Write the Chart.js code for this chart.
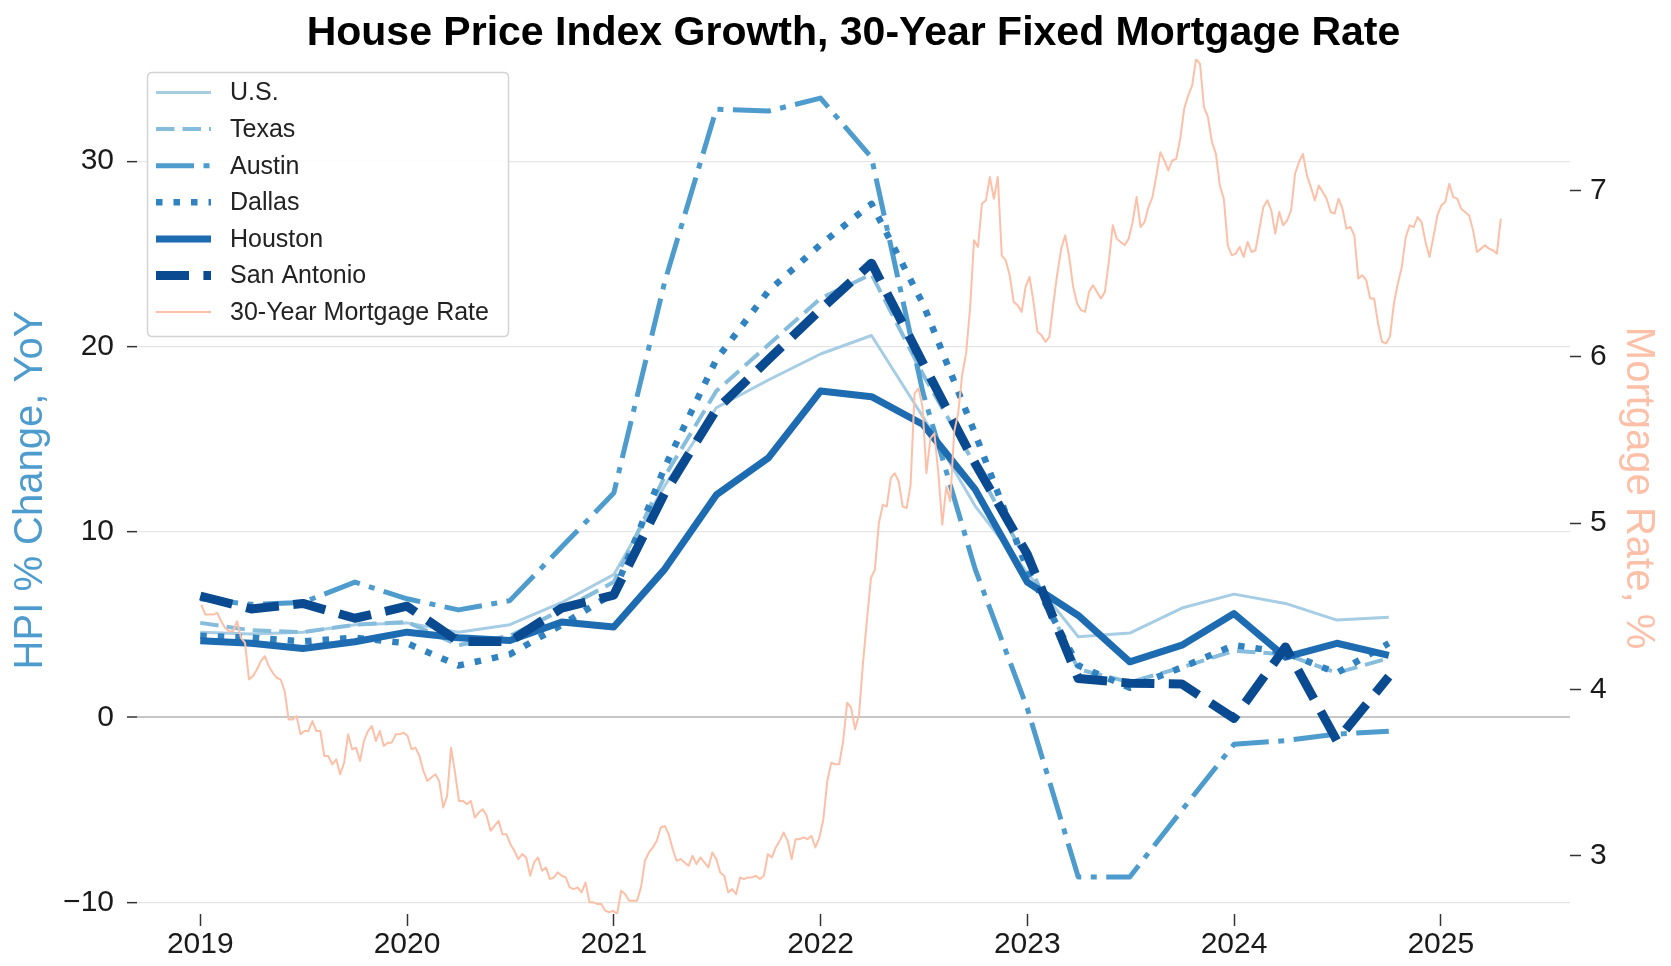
<!DOCTYPE html>
<html>
<head>
<meta charset="utf-8">
<script src="https://cdn.jsdelivr.net/npm/chart.js@4.4.1/dist/chart.umd.min.js"></script>
<style>
html,body{margin:0;padding:0;background:#fff;}
canvas{display:block;}
</style>
</head>
<body>
<canvas id="c" width="1671" height="966"></canvas>
<script>
// ---------- DATA ----------
const titleText = 'House Price Index Growth, 30-Year Fixed Mortgage Rate';
const leftAxisLabel = 'HPI % Change, YoY';
const rightAxisLabel = 'Mortgage Rate, %';

const quarters = ['2019Q1','2019Q2','2019Q3','2019Q4','2020Q1','2020Q2','2020Q3','2020Q4',
  '2021Q1','2021Q2','2021Q3','2021Q4','2022Q1','2022Q2','2022Q3','2022Q4',
  '2023Q1','2023Q2','2023Q3','2023Q4','2024Q1','2024Q2','2024Q3','2024Q4'];

const usHPI      = [4.6, 4.5, 4.6, 5.0, 5.1, 4.6, 5.0, 6.2, 7.7, 12.5, 16.7, 18.2, 19.6, 20.6, 16.2, 11.4, 7.8, 4.35, 4.55, 5.9, 6.65, 6.15, 5.25, 5.4];
const texasHPI   = [5.1, 4.7, 4.6, 5.0, 5.15, 3.9, 4.4, 5.8, 7.3, 13.0, 17.6, 20.1, 22.6, 23.9, 18.5, 13.6, 8.4, 2.6, 1.9, 2.7, 3.6, 3.4, 2.4, 3.2];
const austinHPI  = [6.4, 6.1, 6.2, 7.3, 6.4, 5.8, 6.3, 9.2, 12.1, 23.5, 32.8, 32.7, 33.4, 30.2, 17.5, 8.0, 0.5, -8.6, -8.6, -5.0, -1.45, -1.25, -0.9, -0.75];
const dallasHPI  = [4.4, 4.3, 4.1, 4.3, 4.0, 2.8, 3.4, 5.0, 6.7, 13.5, 19.3, 23.0, 25.5, 27.7, 22.3, 15.3, 8.0, 2.8, 1.6, 2.7, 3.9, 3.5, 2.4, 4.0];
const houstonHPI = [4.13, 4.0, 3.72, 4.08, 4.6, 4.3, 4.15, 5.15, 4.88, 8.0, 12.0, 14.0, 17.6, 17.3, 15.8, 12.3, 7.3, 5.5, 3.0, 3.9, 5.6, 3.25, 4.0, 3.35];
const sanAntonioHPI = [6.55, 5.85, 6.15, 5.35, 6.0, 4.1, 4.1, 5.9, 6.6, 12.1, 16.6, 19.3, 22.0, 24.5, 19.1, 13.7, 8.8, 2.1, 1.85, 1.8, -0.05, 3.8, -1.25, 2.2];

// Freddie Mac PMMS 30-year fixed, weekly (Thursdays) starting 2019-01-03
const rateStart = '2019-01-03';
const rate2019 = [4.51,4.45,4.45,4.45,4.46, 4.41,4.37,4.35,4.35, 4.41,4.31,4.28,4.06, 4.08,4.12,4.17,4.20,
  4.14,4.10,4.07,4.06,3.99, 3.82,3.82,3.84,3.73, 3.75,3.75,3.81,3.75, 3.75,3.60,3.60,3.55,3.58,
  3.49,3.56,3.73,3.64, 3.65,3.57,3.69,3.75,3.78, 3.69,3.75,3.66,3.68, 3.68,3.73,3.73,3.74];
const rate2020 = [3.72,3.64,3.65,3.60,3.51, 3.45,3.47,3.49,3.45, 3.29,3.36,3.65,3.50, 3.33,3.33,3.31,3.33,3.23,
  3.26,3.28,3.24,3.15, 3.18,3.21,3.13,3.13, 3.07,3.03,2.98,3.01,2.99, 2.88,2.96,2.99,2.91,
  2.93,2.86,2.87,2.90, 2.88,2.87,2.81,2.80,2.81, 2.78,2.84,2.72,2.72, 2.71,2.71,2.67,2.66,2.67];
const rate2021 = [2.65,2.79,2.77,2.73, 2.73,2.73,2.81,2.97, 3.02,3.05,3.09,3.17, 3.18,3.13,3.04,2.97,2.98,
  2.96,2.94,3.00,2.95, 2.99,2.96,2.93,3.02, 2.98,2.90,2.88,2.78,2.80, 2.77,2.87,2.86,2.87,
  2.87,2.88,2.86,2.88,3.01, 2.99,3.05,3.09,3.14, 3.09,2.98,3.10,3.10, 3.11,3.10,3.12,3.05,3.11];
const rate2022 = [3.22,3.45,3.56,3.55, 3.55,3.69,3.92,3.89, 3.76,3.85,4.16,4.42,4.67, 4.72,5.00,5.11,5.10,
  5.27,5.30,5.25,5.10, 5.09,5.23,5.78,5.81,5.70, 5.30,5.51,5.54,5.30, 4.99,5.22,5.13,5.55,
  5.66,5.89,6.02,6.29,6.70, 6.66,6.92,6.94,7.08, 6.95,7.08,6.61,6.58, 6.49,6.33,6.31,6.27,6.42];
const rate2023 = [6.48,6.33,6.15,6.13, 6.09,6.12,6.32,6.50, 6.65,6.73,6.60,6.42,6.32, 6.28,6.27,6.39,6.43,
  6.39,6.35,6.39,6.57, 6.79,6.71,6.69,6.67,6.71, 6.81,6.96,6.78,6.81, 6.90,6.96,7.09,7.23,7.18,
  7.12,7.18,7.19,7.31, 7.49,7.57,7.63,7.79, 7.76,7.50,7.44,7.29,7.22, 7.03,6.95,6.67,6.61];
const rate2024 = [6.62,6.66,6.60,6.69, 6.63,6.64,6.77,6.90,6.94, 6.88,6.74,6.87,6.79, 6.82,6.88,7.10,7.17,
  7.22,7.09,7.02,6.94,7.03, 6.99,6.95,6.87,6.86, 6.95,6.89,6.77,6.78, 6.73,6.47,6.49,6.46,6.35,
  6.35,6.20,6.09,6.08, 6.12,6.32,6.44,6.54,6.72, 6.79,6.78,6.84,6.81, 6.69,6.60,6.72,6.85];
const rate2025 = [6.91,6.93,7.04,6.96,6.95, 6.89,6.87,6.85,6.76, 6.63,6.65,6.67,6.65, 6.64,6.62,6.83];

const xTickYears = [2019, 2020, 2021, 2022, 2023, 2024, 2025];
const leftTicks  = [-10, 0, 10, 20, 30];
const rightTicks = [3, 4, 5, 6, 7];

// ---------- HELPERS ----------
function decYear(ms){
  const d = new Date(ms);
  const y = d.getUTCFullYear();
  const s = Date.UTC(y,0,1), e = Date.UTC(y+1,0,1);
  return y + (ms - s) / (e - s);
}
function quarterX(q){
  const y = parseInt(q.slice(0,4),10), n = parseInt(q.slice(5),10);
  return decYear(Date.UTC(y, (n-1)*3, 1));
}
const qx = quarters.map(quarterX);
const toPts = arr => arr.map((v,i)=>({x: qx[i], y: v}));

const allRates = [].concat(rate2019, rate2020, rate2021, rate2022, rate2023, rate2024, rate2025);
const startMs = Date.parse(rateStart + 'T00:00:00Z');
const ratePts = allRates.map((v,i)=>({x: decYear(startMs + i*7*86400000), y: v}));

const FONT = '"Liberation Sans", Arial, Helvetica, sans-serif';

const hpiSeries = [
  {label:'U.S.',        data: usHPI,        color:'#a6cde3', width:3,   dash:[],                order:6},
  {label:'Texas',       data: texasHPI,     color:'#86bcdc', width:4,   dash:[18.5,8],          order:5},
  {label:'Austin',      data: austinHPI,    color:'#4e9cce', width:5,   dash:[38,9.5,6,9.5],    order:4},
  {label:'Dallas',      data: dallasHPI,    color:'#3182c0', width:6.5, dash:[6.5,11],          order:3},
  {label:'Houston',     data: houstonHPI,   color:'#1d6bb1', width:7,   dash:[],                order:2},
  {label:'San Antonio', data: sanAntonioHPI,color:'#0a4a90', width:9,   dash:[33,14.4],         order:1}
];

const datasets = hpiSeries.map(s => ({
  label: s.label,
  data: toPts(s.data),
  borderColor: s.color,
  backgroundColor: s.color,
  borderWidth: s.width,
  borderDash: s.dash,
  borderCapStyle: 'butt',
  borderJoinStyle: 'round',
  pointRadius: 0,
  pointHoverRadius: 0,
  tension: 0,
  fill: false,
  yAxisID: 'y',
  order: s.order
}));
datasets.push({
  label: '30-Year Mortgage Rate',
  data: ratePts,
  borderColor: '#fcc0a8',
  backgroundColor: '#fcc0a8',
  borderWidth: 2,
  borderDash: [],
  borderCapStyle: 'butt',
  borderJoinStyle: 'round',
  pointRadius: 0,
  pointHoverRadius: 0,
  tension: 0,
  fill: false,
  yAxisID: 'y1',
  order: 0
});

// ---------- DECOR PLUGIN ----------
const decor = {
  id: 'decor',
  beforeDraw(chart){
    const c = chart.ctx;
    c.save(); c.fillStyle = '#fff'; c.fillRect(0,0,chart.width,chart.height); c.restore();
  },
  afterDraw(chart){
    const c = chart.ctx, a = chart.chartArea;
    c.save();
    // title
    c.fillStyle = '#000';
    c.font = 'bold 41px ' + FONT;
    c.textAlign = 'center';
    c.textBaseline = 'alphabetic';
    c.fillText(titleText, (a.left + a.right)/2, 45);
    // left axis label
    c.save();
    c.translate(41.5, 490);
    c.rotate(-Math.PI/2);
    c.font = '40px ' + FONT;
    c.fillStyle = '#4e9cce';
    c.textAlign = 'center';
    c.fillText(leftAxisLabel, 0, 0);
    c.restore();
    // right axis label
    c.save();
    c.translate(1627, 488);
    c.rotate(Math.PI/2);
    c.font = '40px ' + FONT;
    c.fillStyle = '#fcc0a8';
    c.textAlign = 'center';
    c.fillText(rightAxisLabel, 0, 0);
    c.restore();
    // legend box
    const bx = 147.5, by = 72.5, bw = 361, bh = 264, r = 5;
    c.beginPath();
    c.moveTo(bx+r, by); c.lineTo(bx+bw-r, by); c.quadraticCurveTo(bx+bw, by, bx+bw, by+r);
    c.lineTo(bx+bw, by+bh-r); c.quadraticCurveTo(bx+bw, by+bh, bx+bw-r, by+bh);
    c.lineTo(bx+r, by+bh); c.quadraticCurveTo(bx, by+bh, bx, by+bh-r);
    c.lineTo(bx, by+r); c.quadraticCurveTo(bx, by, bx+r, by);
    c.closePath();
    c.fillStyle = 'rgba(255,255,255,0.85)';
    c.fill();
    c.strokeStyle = '#d4d4d4';
    c.lineWidth = 1.5;
    c.stroke();
    chart.data.datasets.forEach((ds, i) => {
      const y = 92.5 + i*36.6;
      c.save();
      c.beginPath();
      c.strokeStyle = ds.borderColor;
      c.lineWidth = ds.borderWidth;
      c.setLineDash(ds.borderDash || []);
      c.lineCap = 'butt';
      c.moveTo(156, y); c.lineTo(211, y);
      c.stroke();
      c.restore();
      c.fillStyle = '#222';
      c.font = '25px ' + FONT;
      c.textAlign = 'left';
      c.textBaseline = 'middle';
      c.fillText(ds.label, 230, y + 1);
    });
    c.restore();
  }
};

// ---------- CHART ----------
const tickFont = {family: FONT, size: 30};
new Chart(document.getElementById('c'), {
  type: 'line',
  data: { datasets },
  plugins: [decor],
  options: {
    responsive: false,
    animation: false,
    devicePixelRatio: 1,
    layout: { padding: {top: 59, left: 0, right: 0, bottom: 0} },
    plugins: { legend: {display: false}, title: {display: false}, tooltip: {enabled: false} },
    scales: {
      x: {
        type: 'linear',
        min: 2018.694,
        max: 2025.625,
        afterBuildTicks: s => { s.ticks = xTickYears.map(v => ({value: v})); },
        afterFit: s => { s.height = 52; },
        ticks: { font: tickFont, color: '#1a1a1a', padding: 1, maxRotation: 0, autoSkip: false,
                 callback: v => String(v) },
        grid: { drawOnChartArea: false, drawTicks: true, tickLength: 12, tickColor: '#333', tickWidth: 1.5 },
        border: { display: false }
      },
      y: {
        type: 'linear',
        position: 'left',
        min: -10.6,
        max: 35.51,
        afterBuildTicks: s => { s.ticks = leftTicks.map(v => ({value: v})); },
        afterFit: s => { s.width = 137; },
        ticks: { font: tickFont, color: '#1a1a1a', padding: 13,
                 callback: v => v < 0 ? '\u2212' + Math.abs(v) : String(v) },
        grid: {
          drawOnChartArea: true, drawTicks: true, tickLength: 10,
          color: ctx => (ctx.tick && ctx.tick.value === 0) ? '#c6c6c6' : '#e6e6e6',
          lineWidth: ctx => (ctx.tick && ctx.tick.value === 0) ? 2 : 1.3,
          tickColor: '#333', tickWidth: 1.5
        },
        border: { display: false }
      },
      y1: {
        type: 'linear',
        position: 'right',
        min: 2.65,
        max: 7.79,
        afterBuildTicks: s => { s.ticks = rightTicks.map(v => ({value: v})); },
        afterFit: s => { s.width = 101; },
        ticks: { font: tickFont, color: '#1a1a1a', padding: 9, callback: v => String(v) },
        grid: { drawOnChartArea: false, drawTicks: true, tickLength: 11, tickColor: '#333', tickWidth: 1.5 },
        border: { display: false }
      }
    }
  }
});
</script>
</body>
</html>
